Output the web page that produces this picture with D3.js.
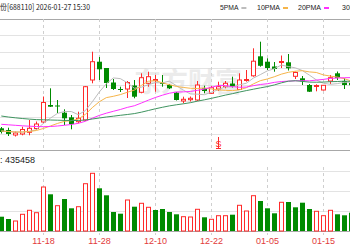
<!DOCTYPE html>
<html>
<head>
<meta charset="utf-8">
<script src="https://cdnjs.cloudflare.com/ajax/libs/d3/7.8.5/d3.min.js"></script>
<style>
  body { margin: 0; background: #fff; }
  svg { display: block; }
</style>
</head>
<body>
<svg id="chart"></svg>
<script>
// daily candles, 11-10 .. 01-21 (visible part)
const opens  = [50.85, 50, 47.5, 48, 48.85, 50.75, 54, 62.5, 62.25, 58.65, 56.35, 54.15, 55, 75, 84.15, 81, 73.75, 70.5, 70.5, 72.25, 68.85, 73.35, 74.75, 73.5, 72.5, 68.65, 64.5, 65.15, 65, 70.85, 68.35, 70.5, 71.65, 73.25, 70.25, 74.75, 77.1, 86.85, 84.15, 81.75, 83.75, 83.85, 76.85, 75.85, 72.5, 71.75, 70, 74.5, 78.35, 74.5, 73.5];
const closes = [49, 48, 48.5, 50.25, 50.85, 53, 63.75, 61.65, 62, 55.85, 53, 55.85, 71.65, 84.15, 80.35, 73.5, 70.5, 70, 73.75, 66.65, 76.15, 76.65, 75.25, 73.15, 70.85, 65, 65.35, 65.85, 72.5, 69.5, 71.15, 71.65, 73.35, 71.65, 75, 75.25, 84.4, 82.1, 81, 80.5, 84.25, 80.85, 78.75, 74.35, 69.15, 72.25, 72.35, 76.15, 76, 72.5, 72.4];
const highs  = [51.5, 51.15, 49.25, 51.65, 55, 54.25, 66.75, 70.85, 65, 60.35, 57.5, 59.15, 72, 89.15, 86.5, 81, 75.5, 71.65, 74.5, 75, 78.35, 79.15, 77.5, 77.5, 73, 69, 66.65, 66.75, 74.5, 72.15, 72, 74.15, 74.5, 76.65, 78.35, 80, 90.85, 94.15, 85.85, 84, 87.25, 88, 79.25, 77, 73, 72.85, 72.5, 77.5, 79.25, 75.85, 74];
const lows   = [48.25, 47, 46.75, 47.35, 47.35, 50, 53.5, 61.5, 58.5, 52.5, 50.35, 53.35, 54.5, 73.35, 75, 71, 70, 69, 66, 65.85, 68.35, 71.65, 69.15, 71.65, 70.5, 64.75, 63.35, 64.25, 64.5, 68.35, 68, 69.5, 70.85, 71.15, 70, 74.15, 76.65, 81.65, 80, 79.15, 81, 79.75, 75.5, 72.5, 69, 69.35, 69.75, 73, 75, 70.5, 71.5];
const prevClose = 50;
const volumes = [143000, 120000, 100000, 167000, 207000, 183000, 440000, 367000, 253000, 320000, 227000, 243000, 473000, 577000, 427000, 357000, 190000, 173000, 310000, 243000, 277000, 237000, 210000, 220000, 190000, 167000, 143000, 140000, 217000, 137000, 117000, 153000, 153000, 163000, 257000, 200000, 353000, 300000, 227000, 177000, 287000, 290000, 237000, 283000, 220000, 197000, 153000, 207000, 167000, 157000, 183000];

const ma5  = [49.5, 49.25, 49, 49, 49.32, 50.12, 53.27, 55.9, 58.25, 59.25, 59.25, 57.67, 59.67, 64.1, 69, 73.1, 76.03, 75.7, 73.62, 70.88, 71.41, 72.64, 73.69, 73.57, 74.41, 72.18, 69.92, 68.04, 67.91, 67.64, 68.87, 70.13, 71.63, 71.46, 72.56, 73.38, 75.93, 77.68, 79.55, 80.65, 82.45, 81.74, 81.07, 79.74, 77.47, 75.07, 73.37, 72.85, 73.18, 73.85, 73.88];
const ma10 = [49.5, 49.25, 49, 49, 49.25, 49.75, 50.75, 52, 53.25, 54.29, 54.69, 55.47, 57.79, 61.18, 64.13, 66.18, 66.85, 67.69, 68.86, 69.94, 72.26, 74.34, 74.7, 73.6, 72.65, 71.8, 71.28, 70.87, 70.74, 71.03, 70.53, 70.03, 69.84, 69.69, 70.1, 71.13, 73.03, 74.66, 75.51, 76.61, 77.92, 78.84, 79.38, 79.65, 79.06, 78.76, 77.56, 76.96, 76.46, 75.66, 74.48];
const ma20 = [52.85, 52.6, 52.35, 52.1, 51.9, 51.75, 51.65, 51.75, 52, 52.35, 52.75, 53.35, 54.35, 55.9, 57.3, 58.4, 59.35, 60.25, 61.3, 62.11, 63.47, 64.9, 66.24, 67.39, 68.39, 68.99, 69.07, 69.28, 69.8, 70.48, 71.39, 72.18, 72.27, 71.64, 71.37, 71.46, 72.16, 72.76, 73.12, 73.82, 74.22, 74.43, 74.6, 74.67, 74.58, 74.94, 75.29, 75.81, 75.98, 76.13, 76.2];
const ma30 = [57, 56.5, 56.1, 55.75, 55.45, 55.2, 55.1, 55, 54.9, 54.8, 54.75, 54.75, 55, 55.5, 56, 56.5, 56.9, 57.35, 57.75, 58.2, 58.9, 59.75, 60.6, 61.35, 62.05, 62.6, 63.1, 63.65, 64.4, 65.08, 65.82, 66.61, 67.44, 68.15, 68.96, 69.7, 70.39, 71.07, 71.7, 72.52, 73.57, 74.4, 74.64, 74.31, 73.94, 73.89, 73.96, 74.16, 74.24, 74.43, 74.31];

const tickIdx = [-2, 6, 14, 22, 30, 38, 46];
const tickLabels = ["11-06", "11-18", "11-28", "12-10", "12-22", "01-05", "01-15"];
const legendNames = ["5PMA", "10PMA", "20PMA", "30PMA"];
const signalIdx = 31;

width = 350;
height = 250;
const RED = "#ff2a2a", GREEN = "#008a00";
const maColors = ["#bdbdbd", "#f6b54a", "#ff30ff", "#3f9460"];

var svg = d3.select("#chart").attr("width", width).attr("height", height);

var x = d3.scaleLinear().domain([0, 50]).range([1.3, 351.3]);
var y = d3.scaleLinear().domain([40, 105.5]).range([150, 19]);
var yv = d3.scaleLinear().domain([0, 640000]).range([231, 167]);
const cx = i => Math.round(x(i));

// horizontal grid
var grid = svg.append("g");
grid.selectAll("line.hp")
  .data(d3.range(9).map(k => 40 + k * 65.5 / 8))
  .join("line")
  .attr("x1", 0).attr("x2", width)
  .attr("y1", d => Math.round(y(d)) + 0.5).attr("y2", d => Math.round(y(d)) + 0.5)
  .attr("stroke", (d, k) => (k == 0 || k == 8) ? "#a8a8a8" : "#e3e3e3");
grid.selectAll("line.hv")
  .data(yv.ticks(4))
  .join("line")
  .attr("x1", 0).attr("x2", width)
  .attr("y1", d => Math.round(yv(d)) + 0.5).attr("y2", d => Math.round(yv(d)) + 0.5)
  .attr("stroke", (d, k) => (k == 0 || k == 4) ? "#a8a8a8" : "#e3e3e3");

// vertical dashed date lines
tickIdx.forEach(t => {
  [[19, 150], [167, 235]].forEach(r => {
    grid.append("line")
      .attr("x1", cx(t) + 0.5).attr("x2", cx(t) + 0.5)
      .attr("y1", r[0]).attr("y2", r[1])
      .attr("stroke", "#cfcfcf")
      .attr("stroke-dasharray", "3,3");
  });
});

// watermark
svg.append("text")
  .attr("x", 188).attr("y", 92)
  .attr("text-anchor", "middle")
  .attr("font-family", "Noto Sans CJK SC")
  .attr("font-size", 27)
  .attr("font-weight", "bold")
  .attr("fill", "#d4d4d4")
  .attr("opacity", 0.45)
  .text("东方财富");

// candles
var candles = svg.append("g")
  .selectAll("g")
  .data(closes.map((c, i) => ({ i: i, o: opens[i], c: c, h: highs[i], l: lows[i] })))
  .join("g");
candles.append("line")
  .attr("x1", d => cx(d.i) + 0.5).attr("x2", d => cx(d.i) + 0.5)
  .attr("y1", d => y(d.h)).attr("y2", d => y(d.l))
  .attr("stroke", d => d.c >= d.o ? RED : GREEN);
candles.append("rect")
  .attr("x", d => d.c >= d.o ? cx(d.i) - 1.5 : cx(d.i) - 2)
  .attr("width", d => d.c >= d.o ? 4 : 5)
  .attr("y", d => y(Math.max(d.o, d.c)))
  .attr("height", d => Math.max(1, y(Math.min(d.o, d.c)) - y(Math.max(d.o, d.c))))
  .attr("fill", d => d.c >= d.o ? "#fff" : GREEN)
  .attr("stroke", d => d.c >= d.o ? RED : "none");

// moving averages
var line = d3.line().x((d, i) => x(i)).y(d => y(d));
[ma5, ma10, ma20, ma30].forEach((s, k) => {
  svg.append("path")
    .datum(s)
    .attr("d", line)
    .attr("fill", "none")
    .attr("stroke", maColors[k])
    .attr("stroke-width", 1);
});

// volume
svg.append("g")
  .selectAll("rect")
  .data(volumes)
  .join("rect")
  .attr("x", (d, i) => upDay(i) ? cx(i) - 1.5 : cx(i) - 2)
  .attr("width", (d, i) => upDay(i) ? 4 : 5)
  .attr("y", d => yv(d))
  .attr("height", d => yv(0) - yv(d))
  .attr("fill", (d, i) => upDay(i) ? "#fff" : GREEN)
  .attr("stroke", (d, i) => upDay(i) ? RED : "none");

function upDay(i) {
  return closes[i] >= (i == 0 ? prevClose : closes[i - 1]);
}

// x labels
svg.append("g")
  .selectAll("text")
  .data(tickIdx)
  .join("text")
  .attr("x", d => cx(d) + 0.5)
  .attr("y", 244)
  .attr("text-anchor", "middle")
  .attr("font-family", "Liberation Sans, Arial")
  .attr("font-size", 9)
  .attr("fill", "#e23b3b")
  .text((d, k) => tickLabels[k]);

// title + legend
svg.append("text")
  .attr("x", 0).attr("y", 10)
  .attr("font-family", "Noto Sans CJK SC")
  .attr("font-size", 8)
  .attr("fill", "#222")
  .attr("textLength", 90)
  .attr("lengthAdjust", "spacingAndGlyphs")
  .text("份[688110] 2026-01-27 15:30");

var lg = svg.append("g");
var lx = [220, 257, 298, 342];
legendNames.forEach((n, k) => {
  lg.append("text")
    .attr("x", lx[k]).attr("y", 10)
    .attr("font-family", "Liberation Sans, Arial")
    .attr("font-size", 8)
    .attr("fill", "#222")
    .attr("textLength", n.length * 4.6)
    .attr("lengthAdjust", "spacingAndGlyphs")
    .text(n);
  lg.append("rect")
    .attr("x", lx[k] + n.length * 4.6 + 3).attr("y", 7)
    .attr("width", 5).attr("height", 2)
    .attr("fill", maColors[k]);
});

// volume readout
svg.append("text")
  .attr("x", 0).attr("y", 163)
  .attr("font-family", "Liberation Sans, Arial")
  .attr("font-size", 9)
  .attr("fill", "#222")
  .text(": 435458");

// signal mark
var sg = svg.append("g").attr("fill", "none").attr("stroke", RED);
sg.append("text")
  .attr("x", cx(signalIdx) + 0.5).attr("y", 147)
  .attr("text-anchor", "middle")
  .attr("font-family", "Liberation Sans, Arial")
  .attr("font-size", 9)
  .attr("fill", RED).attr("stroke", "none")
  .text("S");
sg.append("line")
  .attr("x1", cx(signalIdx) + 0.5).attr("x2", cx(signalIdx) + 0.5)
  .attr("y1", 137).attr("y2", 148);
sg.append("line")
  .attr("x1", cx(signalIdx) - 2).attr("x2", cx(signalIdx) + 3)
  .attr("y1", 148.5).attr("y2", 148.5);
</script>
</body>
</html>
